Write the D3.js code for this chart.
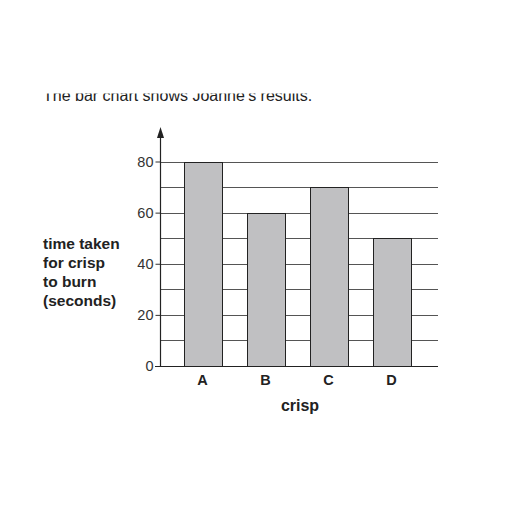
<!DOCTYPE html>
<html><head><meta charset="utf-8">
<script src="https://cdn.jsdelivr.net/npm/d3@7"></script>
<style>body{margin:0;background:#fff}</style>
</head><body>
<svg id="c" width="512" height="512"></svg>
<script>
const categories = ["A","B","C","D"];
const values = [80,60,70,50];
const yTicks = [0,20,40,60,80];
const gridValues = [10,20,30,40,50,60,70,80];
const yLabelLines = ["time taken","for crisp","to burn","(seconds)"];
const caption = "The bar chart shows Joanne\u2019s results.";

const svg = d3.select("#c");
const font = "Arial, 'Liberation Sans', sans-serif";
const axisX = 160, gridRight = 438;

const y = d3.scaleLinear().domain([0,80]).range([366,161.5]);
const x = d3.scaleBand().domain(categories).range([171,423]).paddingInner(0.4).paddingOuter(0.2);

// caption clipped at top
svg.append("defs").append("clipPath").attr("id","cap").append("rect")
  .attr("x",0).attr("y",93.5).attr("width",512).attr("height",20);
svg.append("text").attr("clip-path","url(#cap)").attr("x",43).attr("y",100.5)
  .attr("font-family",font).attr("font-size",16).attr("fill","#222").text(caption);

// gridlines
svg.append("g").selectAll("line").data(gridValues).join("line")
  .attr("x1",axisX).attr("x2",gridRight)
  .attr("y1",d=>Math.round(y(d))+0.5).attr("y2",d=>Math.round(y(d))+0.5)
  .attr("stroke","#555").attr("stroke-width",1);

// bars
svg.append("g").selectAll("rect").data(values).join("rect")
  .attr("x",(d,i)=>Math.round(x(categories[i]))+0.5)
  .attr("width",Math.round(x.bandwidth()))
  .attr("y",d=>Math.round(y(d))+0.5)
  .attr("height",d=>Math.round(y(0))-Math.round(y(d)))
  .attr("fill","#c0c0c2").attr("stroke","#222").attr("stroke-width",1);

// y axis
const yAxis = d3.axisLeft(y).tickValues(yTicks).tickSize(5).tickPadding(2);
const gy = svg.append("g").attr("transform",`translate(${axisX+0.5},0)`).call(yAxis);
gy.select(".domain").remove();
gy.selectAll(".tick line").attr("stroke","#333");
gy.selectAll(".tick text").attr("font-family",font).attr("font-size",14.5).attr("fill","#333");
svg.append("line").attr("x1",axisX+0.5).attr("x2",axisX+0.5).attr("y1",366).attr("y2",134)
  .attr("stroke","#222").attr("stroke-width",1.2);
svg.append("path").attr("d",`M${axisX+0.5},127 L${axisX-3},138 L${axisX+4},138 Z`).attr("fill","#222");

// x axis
svg.append("line").attr("x1",155).attr("x2",gridRight).attr("y1",366.5).attr("y2",366.5)
  .attr("stroke","#222").attr("stroke-width",1.2);
const xAxis = d3.axisBottom(x).tickSize(0).tickPadding(8);
const gx = svg.append("g").attr("transform","translate(0,367)").call(xAxis);
gx.select(".domain").remove();
gx.selectAll(".tick text").attr("font-family",font).attr("font-size",14.5).attr("font-weight","bold").attr("fill","#222");

svg.append("text").attr("x",300).attr("y",411).attr("text-anchor","middle")
  .attr("font-family",font).attr("font-size",16).attr("font-weight","bold").attr("fill","#222").text("crisp");

svg.append("g").selectAll("text").data(yLabelLines).join("text")
  .attr("x",43).attr("y",(d,i)=>249+i*19)
  .attr("font-family",font).attr("font-size",15.5).attr("font-weight","bold").attr("fill","#222").text(d=>d);
</script>
</body></html>
